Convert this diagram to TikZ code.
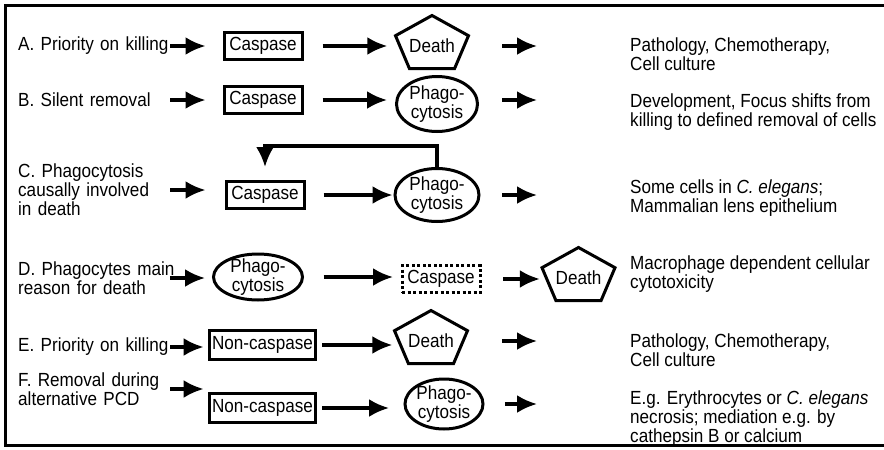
\documentclass[tikz,border=0pt]{standalone}
\usepackage{fontspec}
\setmainfont[FakeStretch=0.9]{Liberation Sans}
\usetikzlibrary{positioning}
\usetikzlibrary{arrows.meta}
\usetikzlibrary{shapes.geometric}

\begin{document}
\begin{tikzpicture}[x=1pt, y=-1pt,
    font=\fontsize{19}{19}\selectfont,
    arr/.style={-{Latex[length=20pt,width=18pt]}, line width=3.3pt},
    casp/.style={draw, line width=3pt, minimum width=78pt, minimum height=27pt, inner xsep=3pt, inner ysep=0pt},
    phago/.style={draw, ellipse, line width=3pt, inner xsep=0pt, inner ysep=-7pt, align=center},
    death/.style={inner sep=0pt, minimum width=73pt, minimum height=53pt},
    lbl/.style={anchor=west, inner sep=0pt, text width=152pt, align=left},
    res/.style={anchor=west, inner sep=0pt, align=left}]
        \useasboundingbox (0,0) rectangle (884,450);
        \draw[line width=3.5pt] (884,5.5) -- (5.5,5.5) -- (5.5,445.5) -- (884,445.5);

        \node[lbl] (lA) at (18,46) {A. Priority on killing};
        \node[casp] (bA) at (263,46) {Caspase};
        \node[death] (dA) at (432,46) {Death};
        \node[res] (tA) at (630,54) {Pathology, Chemotherapy,\\Cell culture};

        \node[lbl] (lB) at (18,100) {B. Silent removal};
        \node[casp] (bB) at (263,100) {Caspase};
        \node[phago, minimum width=81pt, minimum height=55pt] (pB) at (437,104) {Phago-\\cytosis};
        \node[res] (tB) at (630,112) {Development, Focus shifts from\\killing to defined removal of cells};

        \node[lbl] (lC) at (18,190) {C. Phagocytosis\\causally involved\\in death};
        \node[casp] (bC) at (265,195) {Caspase};
        \node[phago, minimum width=84pt, minimum height=53pt] (pC) at (437,195) {Phago-\\cytosis};
        \node[res] (tC) at (630,198) {Some cells in \textit{C. elegans};\\Mammalian lens epithelium};

        \node[lbl] (lD) at (18,278) {\mbox{D. Phagocytes main}\\reason for death};
        \node[phago, minimum width=89pt, minimum height=46pt] (pD) at (258,277) {Phago-\\cytosis};
        \node[casp, dash pattern=on 3pt off 2.5pt] (bD) at (441,279) {Caspase};
        \node[death] (dD) at (578.5,278) {Death};
        \node[res] (tD) at (630,274) {Macrophage dependent cellular\\cytotoxicity};

        \node[lbl] (lE) at (18,347) {E. Priority on killing};
        \node[casp, minimum height=29pt] (bE) at (262.5,345) {Non-caspase};
        \node[death] (dE) at (431,341) {Death};
        \node[res] (tE) at (630,350) {Pathology, Chemotherapy,\\Cell culture};

        \node[lbl] (lF) at (18,389) {F. Removal during\\alternative PCD};
        \node[casp, minimum height=29pt] (bF) at (262.5,408) {Non-caspase};
        \node[phago, minimum width=72pt, minimum height=50pt] (pF) at (444,404) {Phago-\\cytosis};
        \node[res] (tF) at (630,419) {E.g. Erythrocytes or \textit{C. elegans}\\necrosis; mediation e.g. by\\cathepsin B or calcium};

        \foreach \d in {dA,dD,dE}
            \draw[line width=3pt] ([shift={(0,-30.5)}]\d.center) -- ([shift={(36.5,-10.3)}]\d.center) -- ([shift={(22.6,22.5)}]\d.center) -- ([shift={(-22.6,22.5)}]\d.center) -- ([shift={(-36.5,-10.3)}]\d.center) -- cycle;

        \draw[arr, shorten >=17pt] (lA.east) -- (lA.east -| bA.west);
        \draw[arr, shorten >=17pt] (lB.east) -- (lB.east -| bB.west);
        \draw[arr, shorten >=19pt] (lC.east) -- (lC.east -| bC.west);
        \draw[arr, shorten >=7pt] (lD.east) -- (lD.east -| pD.west);
        \draw[arr, shorten >=4pt] (lE.east) -- (lE.east -| bE.west);
        \draw[arr, shorten >=4pt] (lF.east) -- (lF.east -| bF.west);

        \draw[arr, shorten <=19pt, shorten >=8pt] (bA.east) -- (bA.east -| dA.west);
        \draw[arr, shorten <=19pt, shorten >=8pt] (bB.east) -- (bB.east -| pB.west);
        \draw[arr, shorten <=18pt, shorten >=1pt] (bC.east) -- (bC.east -| pC.west);
        \draw[arr, shorten <=19.5pt, shorten >=7.5pt] (pD.east) -- (pD.east -| bD.west);
        \draw[arr, shorten <=21.5pt, shorten >=2pt] (bD.east) -- (bD.east -| dD.west);
        \draw[arr, shorten <=5pt, shorten >=2pt] (bE.east) -- (bE.east -| dE.west);
        \draw[arr, shorten <=5pt, shorten >=14.5pt] (bF.east) -- (bF.east -| pF.west);

        \draw[arr, shorten <=33.3pt, shorten >=93pt] (dA.east) -- (dA.east -| tA.west);
        \draw[arr, shorten <=23pt, shorten >=93pt] (pB.east |- bB.east) -- (bB.east -| tB.west);
        \draw[arr, shorten <=21.5pt, shorten >=93pt] (pC.east) -- (pC.east -| tC.west);
        \draw[arr, shorten <=34.3pt, shorten >=93pt] (dE.east) -- (dE.east -| tE.west);
        \draw[arr, shorten <=20.5pt, shorten >=93pt] (pF.east) -- (pF.east -| tF.west);

        \draw[arr, shorten >=13pt] (pC.north) -- ++(0,-21) -| (bC.north);
    \end{tikzpicture}
\end{document}
